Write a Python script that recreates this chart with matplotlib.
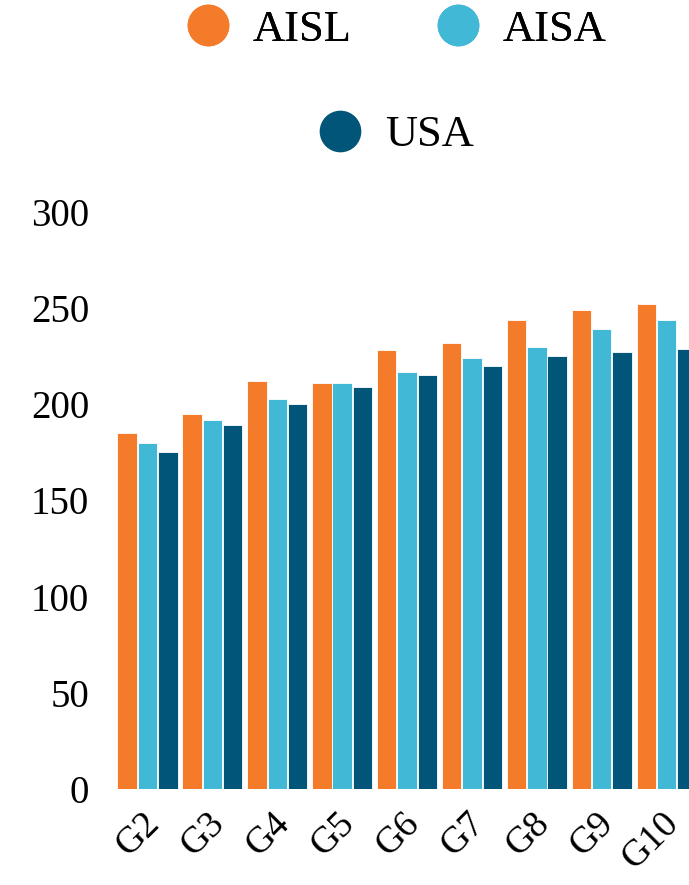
import matplotlib.pyplot as plt
import matplotlib.transforms as mtransforms
from matplotlib.lines import Line2D
import numpy as np

plt.rcParams['font.family'] = ['Liberation Serif', 'DejaVu Serif']

# Data
grades = ['G2', 'G3', 'G4', 'G5', 'G6', 'G7', 'G8', 'G9', 'G10']
aisl = [185, 195, 212, 211, 228, 232, 244, 249, 252]
aisa = [180, 192, 203, 211, 217, 224, 230, 239, 244]
usa = [175, 189, 200, 209, 215, 220, 225, 227, 229]

series_names = ['AISL', 'AISA', 'USA']
colors = ['#F47B2A', '#41B8D5', '#005578']

fig = plt.figure(figsize=(6.89, 8.85), dpi=100)
W, H = 689, 885
# axes in pixel terms: left 110, right 689, bottom y=0 at 789, top y=300 at 212
ax = fig.add_axes([110 / W, (H - 789) / H, (W - 110) / W, 577 / H])

x = np.arange(len(grades))
width = 0.30
step = 0.313
for i, (vals, c) in enumerate(zip([aisl, aisa, usa], colors)):
    ax.bar(x + (i - 1) * step, vals, width=width, color=c,
           edgecolor='white', linewidth=0.6)

ax.set_ylim(0, 300)
ax.set_xlim(-0.578, 8.345)
ax.set_yticks([0, 50, 100, 150, 200, 250, 300])
ax.set_xticks(x)
ax.set_xticklabels(grades, rotation=45, ha='right', va='center',
                   rotation_mode='anchor')
ax.tick_params(axis='y', length=0, pad=15, labelsize=28)
ax.tick_params(axis='x', length=0, pad=21, labelsize=27)
for s in ax.spines.values():
    s.set_visible(False)

# shift x labels so their upper end sits right of the tick
offset = mtransforms.ScaledTranslation(0.07, 0, fig.dpi_scale_trans)
for lbl in ax.get_xticklabels():
    lbl.set_transform(lbl.get_transform() + offset)

def circ(c):
    return Line2D([], [], linestyle='none', marker='o', markersize=29,
                  markerfacecolor=c, markeredgecolor=c)

leg1 = fig.legend([circ(colors[0]), circ(colors[1])], series_names[:2],
                  loc='center', bbox_to_anchor=(396 / W, 1 - 30 / H),
                  ncol=2, frameon=False, fontsize=32, handlelength=1.0,
                  handletextpad=0.5, columnspacing=1.9)
leg2 = fig.legend([circ(colors[2])], series_names[2:],
                  loc='center', bbox_to_anchor=(396 / W, 1 - 135 / H),
                  frameon=False, fontsize=32, handlelength=1.0,
                  handletextpad=0.5)
fig.add_artist(leg1)

fig.savefig('out.png', dpi=100)
